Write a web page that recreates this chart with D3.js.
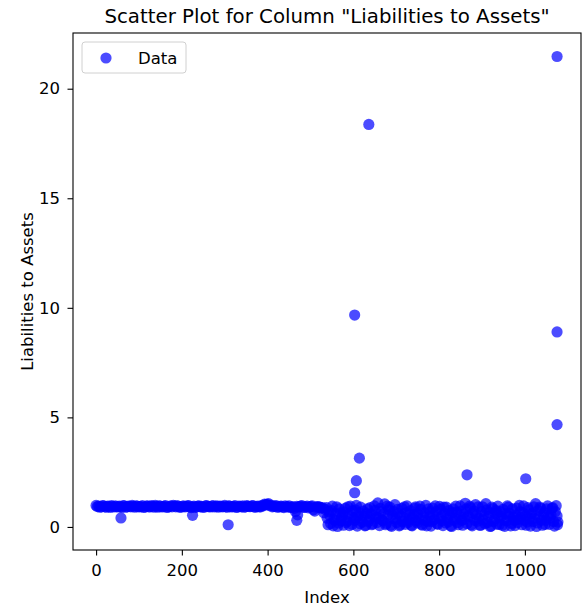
<!DOCTYPE html>
<html>
<head>
<meta charset="utf-8">
<script src="https://cdn.jsdelivr.net/npm/d3@7"></script>
<style>
  body { margin: 0; background: #fff; }
  svg text { font-family: "DejaVu Sans", sans-serif; fill: #000; }
</style>
</head>
<body>
<svg id="chart"></svg>
<script>
"use strict";

// rows 0..534, the flat part of the column
var earlyIndex = [0,6,12,18,24,30,36,42,48,54,60,66,72,78,84,90,96,102,108,114,
  120,126,132,138,144,150,156,162,168,174,180,186,192,198,204,210,216,222,228,234,
  240,246,252,258,264,270,276,282,288,294,300,306,312,318,324,330,336,342,348,354,
  360,366,372,378,384,390,396,402,408,414,420,426,432,438,444,450,456,462,468,474,
  480,486,492,498,504,510,516,522,528,534];
var earlyValue = [0.98,0.95,0.92,0.96,0.90,0.94,0.97,0.91,0.93,0.95,
  0.89,0.96,0.92,0.94,0.98,0.90,0.95,0.93,0.97,0.91,
  0.96,0.92,0.94,0.99,0.90,0.95,0.93,0.97,0.91,0.96,
  0.98,0.92,0.94,0.90,0.96,0.93,0.97,0.88,0.95,0.92,
  0.96,0.94,0.90,0.97,0.93,0.95,0.91,0.96,0.94,0.92,
  0.98,0.90,0.95,0.93,0.97,0.91,0.94,0.96,0.92,0.95,
  0.93,0.97,0.90,0.95,0.92,0.96,1.02,1.06,1.00,0.94,
  0.97,0.91,0.95,0.88,0.93,0.96,0.90,0.85,0.94,0.92,
  0.97,0.89,0.95,0.91,0.96,0.72,0.93,0.90,0.88,0.80];
var earlyIndex2 = [3,9,15,21,27,33,39,45,51,57,63,69,75,81,87,93,99,105,111,117,
  123,129,135,141,147,153,159,165,171,177,183,189,195,201,207,213,219,225,231,237,
  243,249,255,261,267,273,279,285,291,297,303,309,315,321,327,333,339,345,351,357,
  363,369,375,381,387,393,399,405,411,417,423,429,435,441,447,453,459,465,471,477,
  483,489,495,501,507,513,519,525,531];
var earlyValue2 = [0.93,0.90,0.97,0.92,0.95,0.89,0.94,0.96,0.91,0.93,
  0.97,0.90,0.95,0.92,0.94,0.96,0.91,0.93,0.89,0.95,
  0.92,0.97,0.90,0.94,0.96,0.91,0.95,0.89,0.93,0.92,
  0.95,0.97,0.90,0.94,0.92,0.96,0.91,0.93,0.89,0.95,
  0.92,0.90,0.96,0.93,0.91,0.97,0.94,0.90,0.95,0.93,
  0.92,0.96,0.91,0.94,0.89,0.95,0.92,0.90,0.97,0.93,
  0.96,0.91,0.94,0.92,0.98,1.04,1.03,0.97,0.92,0.95,
  0.90,0.94,0.91,0.96,0.92,0.89,0.93,0.70,0.91,0.95,
  0.90,0.93,0.87,0.94,0.78,0.90,0.92,0.86,0.65];

// rows 537..1077, the spread-out part
var lateIndex = [537,541,545,549,553,557,561,565,569,573,577,581,585,589,593,597,601,605,609,613,
  617,621,625,629,633,637,641,645,649,653,657,661,665,669,673,677,681,685,689,693,
  697,701,705,709,713,717,721,725,729,733,737,741,745,749,753,757,761,765,769,773,
  777,781,785,789,793,797,801,805,809,813,817,821,825,829,833,837,841,845,849,853,
  857,861,865,869,873,877,881,885,889,893,897,901,905,909,913,917,921,925,929,933,
  937,941,945,949,953,957,961,965,969,973,977,981,985,989,993,997,1001,1005,1009,1013,
  1017,1021,1025,1029,1033,1037,1041,1045,1049,1053,1057,1061,1065,1069,1073,1077];
var lateValue = [0.88,0.10,0.52,0.75,0.05,0.30,0.92,0.18,0.64,0.42,
  0.08,0.85,0.26,0.58,0.95,0.12,0.40,0.78,0.04,0.66,
  0.90,0.22,0.48,0.07,0.82,0.35,0.60,0.14,0.96,0.45,
  1.10,0.06,0.70,0.28,1.05,0.16,0.55,0.90,0.03,0.38,
  1.02,0.20,0.62,0.09,0.85,0.44,0.12,0.96,0.30,0.74,
  0.05,0.58,0.92,0.18,0.40,0.80,0.08,0.66,0.98,0.25,
  0.50,0.04,0.86,0.34,0.70,0.12,0.94,0.46,0.06,0.62,
  0.90,0.22,0.54,0.02,0.82,0.38,0.68,0.10,0.96,0.30,
  0.60,1.08,0.15,0.48,0.88,0.05,0.72,1.02,0.26,0.42,
  0.08,0.92,0.56,1.06,0.20,0.66,0.04,0.84,0.36,0.74,
  0.95,0.12,0.50,0.80,0.03,0.28,0.90,0.62,0.16,0.44,
  0.06,0.86,0.34,0.70,0.10,0.96,0.52,0.22,0.78,0.04,
  0.60,0.92,1.06,0.18,0.46,0.85,0.08,0.66,0.30,0.96,
  0.12,0.55,0.88,0.04,0.97,0.22];
var lateIndex2 = [539,543,547,551,555,559,563,567,571,575,579,583,587,591,595,599,603,607,611,615,
  619,623,627,631,635,639,643,647,651,655,659,663,667,671,675,679,683,687,691,695,
  699,703,707,711,715,719,723,727,731,735,739,743,747,751,755,759,763,767,771,775,
  779,783,787,791,795,799,803,807,811,815,819,823,827,831,835,839,843,847,851,855,
  859,863,867,871,875,879,883,887,891,895,899,903,907,911,915,919,923,927,931,935,
  939,943,947,951,955,959,963,967,971,975,979,983,987,991,995,999,1003,1007,1011,1015,
  1019,1023,1027,1031,1035,1039,1043,1047,1051,1055,1059,1063,1067,1071,1075,1076];
var lateValue2 = [0.40,0.70,0.15,0.95,0.35,0.60,0.02,0.82,0.28,0.55,
  0.68,0.20,0.92,0.06,0.45,0.74,0.30,0.98,0.50,0.15,
  0.38,0.72,0.05,0.62,0.25,0.88,0.10,0.52,0.76,0.20,
  0.40,0.85,0.32,0.60,0.10,0.95,0.78,0.08,0.55,0.70,
  0.35,0.80,0.05,0.50,0.25,0.92,0.65,0.20,0.55,0.08,
  0.42,0.85,0.28,0.60,0.95,0.12,0.50,0.30,0.05,0.82,
  0.70,0.25,0.58,0.96,0.15,0.45,0.80,0.28,0.90,0.18,
  0.40,0.75,0.05,0.65,0.30,0.95,0.20,0.50,0.72,0.08,
  0.35,0.82,0.50,0.95,0.10,0.62,0.30,0.55,0.92,0.08,
  0.70,0.32,0.15,0.78,0.48,0.02,0.90,0.25,0.60,0.12,
  0.45,0.70,0.08,0.32,0.60,0.96,0.50,0.05,0.82,0.30,
  0.55,0.20,0.98,0.45,0.65,0.30,0.08,0.88,0.40,0.62,
  0.25,0.40,0.02,0.75,0.90,0.30,0.55,0.12,0.82,0.50,
  0.40,0.85,0.25,0.70,0.50,0.10];

// odd rows that stand out from the rest
var oddIndex = [58,225,308,468,470,603,607,614,603,636,865,1002,1075,1075,1075];
var oddValue = [0.41,0.53,0.10,0.30,0.55,1.56,2.11,3.14,9.67,18.37,2.38,2.20,4.67,8.90,21.47];

var xTicks = [0,200,400,600,800,1000];
var yTicks = [0,5,10,15,20];

function drawChart() {
  var width = 583, height = 611;
  var margin = {top: 33, right: 2, bottom: 61, left: 73};
  var svg = d3.select("#chart").attr("width", width).attr("height", height);

  var points = [];
  function addSeries(idx, vals) {
    idx.forEach(function (d, i) { points.push({x: d, y: vals[i]}); });
  }
  addSeries(earlyIndex, earlyValue);
  addSeries(earlyIndex2, earlyValue2);
  addSeries(lateIndex, lateValue);
  addSeries(lateIndex2, lateValue2);
  addSeries(oddIndex, oddValue);

  // matplotlib style 5% padding
  var xExt = d3.extent(points, function (d) { return d.x; });
  var yExt = d3.extent(points, function (d) { return d.y; });
  var xPad = (xExt[1] - xExt[0]) * 0.05, yPad = (yExt[1] - yExt[0]) * 0.05;

  var x = d3.scaleLinear().domain([xExt[0] - xPad, xExt[1] + xPad])
    .range([margin.left, width - margin.right]);
  var y = d3.scaleLinear().domain([yExt[0] - yPad, yExt[1] + yPad])
    .range([height - margin.bottom, margin.top]);

  svg.append("g").selectAll("circle")
    .data(points)
    .enter().append("circle")
    .attr("cx", function (d) { return x(d.x); })
    .attr("cy", function (d) { return y(d.y); })
    .attr("r", 5.6)
    .style("fill", "#0000ff")
    .style("fill-opacity", 0.7);

  var xAxis = svg.append("g")
    .attr("transform", "translate(0," + (height - margin.bottom) + ")")
    .call(d3.axisBottom(x).tickValues(xTicks).tickFormat(d3.format("d"))
      .tickSize(5.5).tickPadding(9).tickSizeOuter(0));
  var yAxis = svg.append("g")
    .attr("transform", "translate(" + margin.left + ",0)")
    .call(d3.axisLeft(y).tickValues(yTicks).tickSize(5.5).tickPadding(7.5).tickSizeOuter(0));
  [xAxis, yAxis].forEach(function (ax) {
    ax.selectAll("text").style("font-size", "16.5px").style("font-family", "DejaVu Sans, sans-serif");
    ax.selectAll("line").style("stroke", "#000").style("stroke-width", 1.1);
    ax.select(".domain").remove();
  });

  // frame
  svg.append("rect")
    .attr("x", margin.left).attr("y", margin.top)
    .attr("width", width - margin.left - margin.right)
    .attr("height", height - margin.top - margin.bottom)
    .style("fill", "none").style("stroke", "#000").style("stroke-width", 1.1);

  svg.append("text")
    .text("Scatter Plot for Column \"Liabilities to Assets\"")
    .attr("x", (margin.left + width - margin.right) / 2)
    .attr("y", 23)
    .attr("text-anchor", "middle")
    .style("font-size", "19.8px");

  svg.append("text")
    .text("Index")
    .attr("x", (margin.left + width - margin.right) / 2)
    .attr("y", 603)
    .attr("text-anchor", "middle")
    .style("font-size", "16.5px");

  svg.append("text")
    .text("Liabilities to Assets")
    .attr("transform", "translate(33," + (margin.top + height - margin.bottom) / 2 + ") rotate(-90)")
    .attr("text-anchor", "middle")
    .style("font-size", "16.5px");

  // legend
  var legend = svg.append("g");
  legend.append("rect")
    .attr("x", 82).attr("y", 42).attr("width", 104).attr("height", 31)
    .attr("rx", 3)
    .style("fill", "#fff").style("fill-opacity", 0.8)
    .style("stroke", "#d0d0d0").style("stroke-width", 1);
  legend.append("circle")
    .attr("cx", 106).attr("cy", 58).attr("r", 5.6)
    .style("fill", "#0000ff").style("fill-opacity", 0.7);
  legend.append("text")
    .text("Data")
    .attr("x", 138).attr("y", 58)
    .attr("dy", "0.35em")
    .style("font-size", "16.5px");
}

drawChart();
</script>
</body>
</html>
